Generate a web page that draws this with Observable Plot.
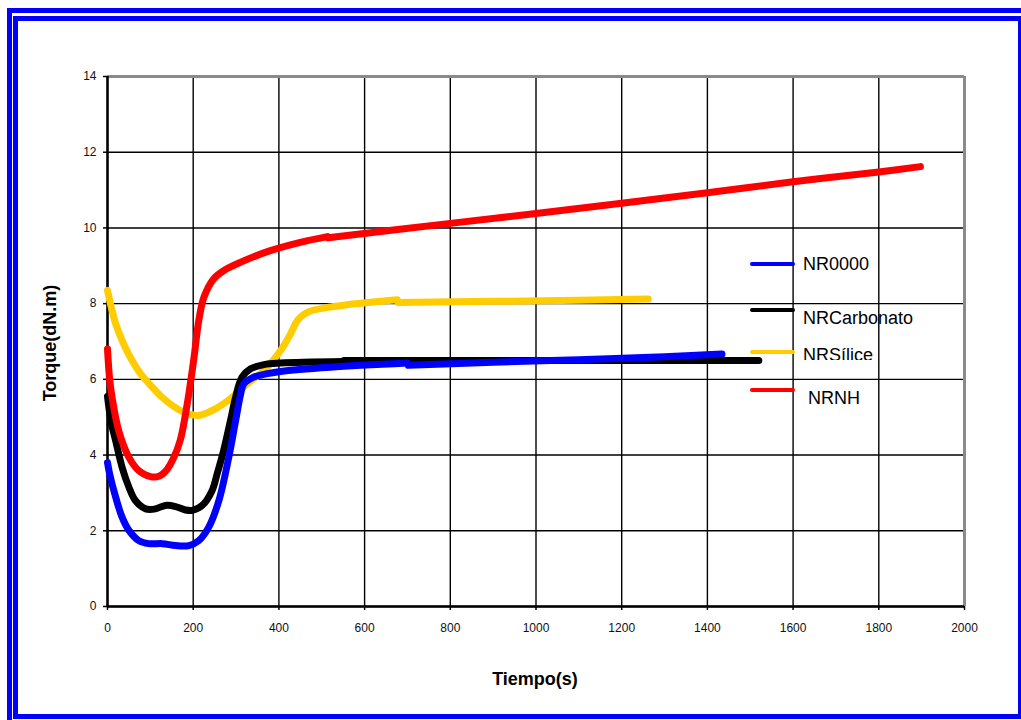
<!DOCTYPE html>
<html><head><meta charset="utf-8">
<script src="https://cdn.jsdelivr.net/npm/d3@7"></script>
<script src="https://cdn.jsdelivr.net/npm/@observablehq/plot@0.6"></script>
<style>
html,body{margin:0;padding:0;background:#fff;width:1021px;height:720px;overflow:hidden;position:relative;font-family:"Liberation Sans",Arial,sans-serif;}
#b1{position:absolute;left:7px;top:8px;width:1100px;height:800px;border:5px solid #0000ff;box-sizing:border-box;}
#b2{position:absolute;left:13px;top:16px;width:1010px;height:703px;border:5px solid #0000ff;box-sizing:border-box;}
#chart{position:absolute;left:0;top:0;}
</style></head>
<body>
<div id="b1"></div><div id="b2"></div>
<div id="chart"></div>
<script>
// ---- data ----
const xTicks = [0,200,400,600,800,1000,1200,1400,1600,1800,2000];
const yTicks = [0,2,4,6,8,10,12,14];
const seriesNames = ["NR0000","NRCarbonato","NRSílice","NRNH"];
const seriesColors = ["#0000ff","#000000","#ffcc00","#ff0000"];

const tNR0000 = [0,5,19,34,50,73,96,128,159,190,213,236,260,283,299,310,318,341,373,404,520,700,702,900,1100,1300,1434];
const vNR0000 = [3.80,3.50,2.89,2.36,2.01,1.74,1.66,1.66,1.61,1.61,1.74,2.09,2.80,3.94,4.91,5.57,5.88,6.06,6.15,6.21,6.32,6.43,6.37,6.45,6.52,6.60,6.67];

const tNRCarbonato = [0,8,19,34,50,65,89,112,135,159,182,198,221,244,256,271,287,299,314,334,365,404,550,552,1000,1520];
const vNRCarbonato = [5.55,4.90,4.38,3.68,3.15,2.80,2.58,2.58,2.67,2.64,2.55,2.54,2.67,3.06,3.51,4.12,4.91,5.53,6.06,6.28,6.39,6.43,6.47,6.50,6.50,6.50];

const tNRSilice = [0,10,19,34,50,77,100,128,155,180,200,215,248,287,326,365,404,427,443,466,520,559,637,676,678,900,1100,1262];
const vNRSilice = [8.35,7.85,7.47,7.03,6.65,6.15,5.85,5.52,5.28,5.12,5.06,5.05,5.20,5.49,5.88,6.23,6.76,7.20,7.55,7.77,7.91,7.97,8.06,8.10,8.03,8.06,8.09,8.12];

const tNRNH = [0,5,11,26,50,73,100,120,139,155,170,186,201,213,225,248,271,310,380,450,513,515,800,1000,1200,1400,1600,1800,1897];
const vNRNH = [6.80,6.00,5.50,4.65,3.94,3.59,3.43,3.44,3.62,3.94,4.40,5.35,6.50,7.55,8.17,8.66,8.87,9.09,9.40,9.62,9.77,9.74,10.12,10.38,10.65,10.93,11.22,11.48,11.62];

// time at which each recording restarts (small jog in the trace)
const segmentStart = [702, 552, 678, 515];

const xLabel = "Tiempo(s)";
const yLabel = "Torque(dN.m)";

// ---- build rows ----
const times = [tNR0000,tNRCarbonato,tNRSilice,tNRNH];
const vals = [vNR0000,vNRCarbonato,vNRSilice,vNRNH];
const rows = s => times[s].map((t,i)=>({t, v: vals[s][i], seg: seriesNames[s] + (t >= segmentStart[s] ? "b" : "a")}));
const drawOrder = [2,1,0,3];

const W = 1021, H = 720;
const plot = Plot.plot({
  width: W, height: H,
  marginLeft: 107, marginRight: 57, marginTop: 76, marginBottom: 114,
  style: {fontFamily: '"Liberation Sans", Arial, sans-serif', fontSize: "12px", background: "transparent", color: "#111"},
  x: {domain: [xTicks[0], xTicks[xTicks.length-1]]},
  y: {domain: [yTicks[0], yTicks[yTicks.length-1]]},
  marks: [
    Plot.gridX(xTicks, {stroke: "#000", strokeOpacity: 1, strokeWidth: 1.4}),
    Plot.gridY(yTicks, {stroke: "#000", strokeOpacity: 1, strokeWidth: 1.4}),
    Plot.ruleY([yTicks[yTicks.length-1]], {stroke: "#8a8a8a", strokeWidth: 3}),
    Plot.ruleX([xTicks[xTicks.length-1]], {stroke: "#8a8a8a", strokeWidth: 3}),
    Plot.ruleX([xTicks[0]], {stroke: "#000", strokeWidth: 2.5}),
    Plot.ruleY([yTicks[0]], {stroke: "#000", strokeWidth: 2.5}),
    Plot.axisX({ticks: xTicks, tickFormat: d => String(d), tickSize: 4, tickPadding: 13, label: null, stroke: "#000", strokeWidth: 1.5, fontSize: 12}),
    Plot.axisY({ticks: yTicks, tickFormat: d => String(d), tickSize: 4, tickPadding: 7, label: null, stroke: "#000", strokeWidth: 1.5, fontSize: 12}),
    ...drawOrder.map(s => Plot.line(rows(s), {x: "t", y: "v", z: "seg", stroke: seriesColors[s], strokeWidth: 7, curve: "catmull-rom", strokeLinecap: "round", strokeLinejoin: "round"}))
  ]
});
document.getElementById("chart").appendChild(plot);

// ---- titles and legend ----
const svg = d3.select(plot);
svg.append("text").attr("transform", "translate(50,343) rotate(-90)")
  .attr("text-anchor","middle").attr("dominant-baseline","central")
  .attr("font-weight","bold").attr("font-size", 18).attr("fill","#000").text(yLabel);
svg.append("text").attr("x", 535).attr("y", 679)
  .attr("text-anchor","middle").attr("dominant-baseline","central")
  .attr("font-weight","bold").attr("font-size", 18).attr("fill","#000").text(xLabel);

const legY = [264, 310, 352, 390];
const legTextY = [264, 318, 355, 398];
const legTextX = [803, 803, 803, 808];
svg.append("defs").append("clipPath").attr("id","legclip")
  .append("rect").attr("x", 780).attr("y", 330).attr("width", 200).attr("height", 30);
const leg = svg.append("g").attr("text-anchor","start");
seriesNames.forEach((n,i) => {
  leg.append("line").attr("x1",752).attr("x2",793).attr("y1",legY[i]).attr("y2",legY[i])
    .attr("stroke", seriesColors[i]).attr("stroke-width", 4).attr("stroke-linecap","round");
  const t = leg.append("text").attr("x", legTextX[i]).attr("y", legTextY[i])
    .attr("text-anchor","start").attr("dominant-baseline","central")
    .attr("font-size", 18).attr("fill","#000").text(n);
  if (i === 2) t.attr("clip-path","url(#legclip)");
});
</script>
</body></html>
